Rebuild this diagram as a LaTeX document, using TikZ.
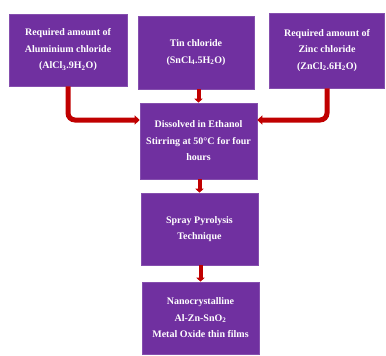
\documentclass[tikz,border=0pt]{standalone}
\usepackage{fontspec}
\setmainfont{Liberation Serif}
\usetikzlibrary{arrows.meta}
\definecolor{boxpurple}{HTML}{7030A0}
\definecolor{arrowred}{HTML}{C00000}
\begin{document}
\begin{tikzpicture}[x=1pt,y=-1pt,
  procbox/.style={fill=boxpurple, draw=boxpurple!85!white, line width=0.6pt, text=white, align=center,
    font=\fontsize{10}{16.5}\selectfont\bfseries, inner sep=2pt},
  flowarrow/.style={draw=arrowred, line width=5pt, rounded corners=7pt,
    -{Triangle[length=5pt,width=9pt]}},
  shortarrow/.style={draw=arrowred, line width=4pt, -{Triangle[length=4pt,width=8pt]}}]
\useasboundingbox (0,0) rectangle (386,356);
\node[procbox, minimum width=118pt, minimum height=72pt] (L) at (68,50)
  {Required amount of\\Aluminium chloride\\(AlCl\textsubscript{3}.9H\textsubscript{2}O)};
\node[procbox, minimum width=116pt, minimum height=73pt] (M) at (196,52.5)
  {Tin chloride\\(SnCl\textsubscript{4}.5H\textsubscript{2}O)};
\node[procbox, minimum width=115pt, minimum height=75pt] (R) at (327,50.5)
  {Required amount of\\Zinc chloride\\(ZnCl\textsubscript{2}.6H\textsubscript{2}O)};
\node[procbox, minimum width=117pt, minimum height=76pt] (B2) at (198.5,141)
  {Dissolved in Ethanol\\Stirring at 50\textdegree C for four\\hours};
\node[procbox, minimum width=117pt, minimum height=72pt] (B3) at (199.5,229)
  {Spray Pyrolysis\\Technique};
\node[procbox, minimum width=117pt, minimum height=72pt] (B4) at (200.5,318)
  {Nanocrystalline\\Al-Zn-SnO\textsubscript{2}\\Metal Oxide thin films};
\coordinate (lj) at (0,120);
\draw[flowarrow] (L.south) |- (B2.west |- lj);
\draw[flowarrow] (R.south) |- (B2.east |- lj);
\draw[shortarrow] (B2.north |- M.south) -- (B2.north);
\draw[shortarrow] (B3.north |- B2.south) -- (B3.north);
\draw[shortarrow] (B4.north |- B3.south) -- (B4.north);
\end{tikzpicture}
\end{document}
